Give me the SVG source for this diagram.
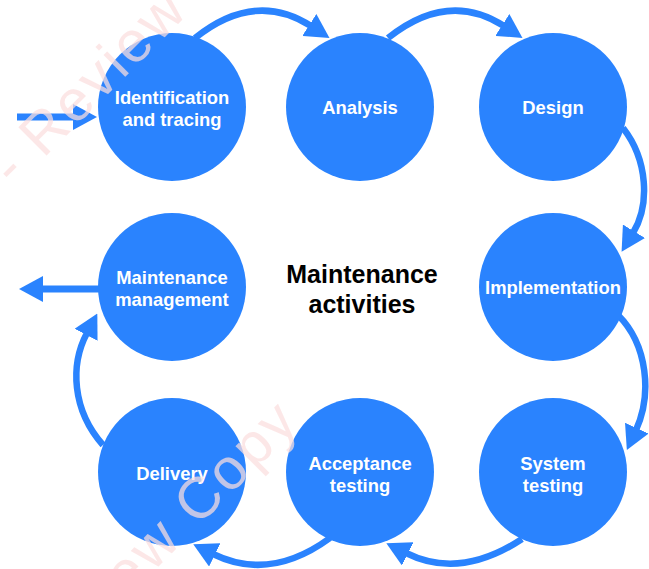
<svg xmlns="http://www.w3.org/2000/svg" width="649" height="569" viewBox="0 0 649 569">
<style>
.node{fill:#2a83fe}
.lbl{font-family:"Liberation Sans",Arial,sans-serif;font-weight:bold;font-size:18.4px;fill:#ffffff;text-anchor:middle}
.title{font-family:"Liberation Sans",Arial,sans-serif;font-weight:bold;font-size:25px;fill:#000000;text-anchor:middle}
.arc{fill:none;stroke:#2a83fe;stroke-width:6.5}
.shaft{fill:none;stroke:#2a83fe;stroke-width:7}
.wm{font-family:"Liberation Sans",Arial,sans-serif;font-size:58px;letter-spacing:3px;fill:#fcdfdf;opacity:0.72}
</style>
<defs>
<marker id="ah" markerUnits="userSpaceOnUse" markerWidth="24" markerHeight="26" viewBox="0 0 24 26" refX="2" refY="13" orient="auto">
<path d="M0,0 L24,13 L0,26 z" fill="#2a83fe"/>
</marker>
</defs>
<rect width="649" height="569" fill="#ffffff"/>
<g id="connectors">
<path class="arc" d="M195,38 Q255,-10 311,26" marker-end="url(#ah)"/>
<path class="arc" d="M388,38 Q448,-10 504,26" marker-end="url(#ah)"/>
<path class="arc" d="M623,128 C648,160 650,205 633,233" marker-end="url(#ah)"/>
<path class="arc" d="M618,315 C648,345 652,395 636,430" marker-end="url(#ah)"/>
<path class="arc" d="M522,539 Q460,580 406,553" marker-end="url(#ah)"/>
<path class="arc" d="M330,538 Q270,582 213,554" marker-end="url(#ah)"/>
<path class="arc" d="M103,445 C72,410 70,365 87,333" marker-end="url(#ah)"/>
<path class="shaft" d="M17,117 L75,117" marker-end="url(#ah)"/>
<path class="shaft" d="M99,289 L41,289" marker-end="url(#ah)"/>
</g>
<g id="n1"><circle class="node" cx="172" cy="107" r="74"/><text class="lbl" x="172" y="104">Identification</text><text class="lbl" x="172" y="126">and tracing</text></g>
<g id="n2"><circle class="node" cx="360" cy="107" r="74"/><text class="lbl" x="360" y="114">Analysis</text></g>
<g id="n3"><circle class="node" cx="553" cy="107" r="74"/><text class="lbl" x="553" y="114">Design</text></g>
<g id="n4"><circle class="node" cx="553" cy="287" r="74"/><text class="lbl" x="553" y="294">Implementation</text></g>
<g id="n5"><circle class="node" cx="553" cy="472" r="74"/><text class="lbl" x="553" y="470">System</text><text class="lbl" x="553" y="492">testing</text></g>
<g id="n6"><circle class="node" cx="360" cy="472" r="74"/><text class="lbl" x="360" y="470">Acceptance</text><text class="lbl" x="360" y="492">testing</text></g>
<g id="n7"><circle class="node" cx="172" cy="472" r="74"/><text class="lbl" x="172" y="480">Delivery</text></g>
<g id="n8"><circle class="node" cx="172" cy="287" r="74"/><text class="lbl" x="172" y="284">Maintenance</text><text class="lbl" x="172" y="306">management</text></g>
<g id="title"><text class="title" x="362" y="283">Maintenance</text><text class="title" x="362" y="313">activities</text></g>
<g id="watermark">
<text class="wm" transform="translate(14,188) rotate(-45)">- Review Copy</text>
<text class="wm" transform="translate(37,688) rotate(-45)">Review Copy</text>
</g>
</svg>
